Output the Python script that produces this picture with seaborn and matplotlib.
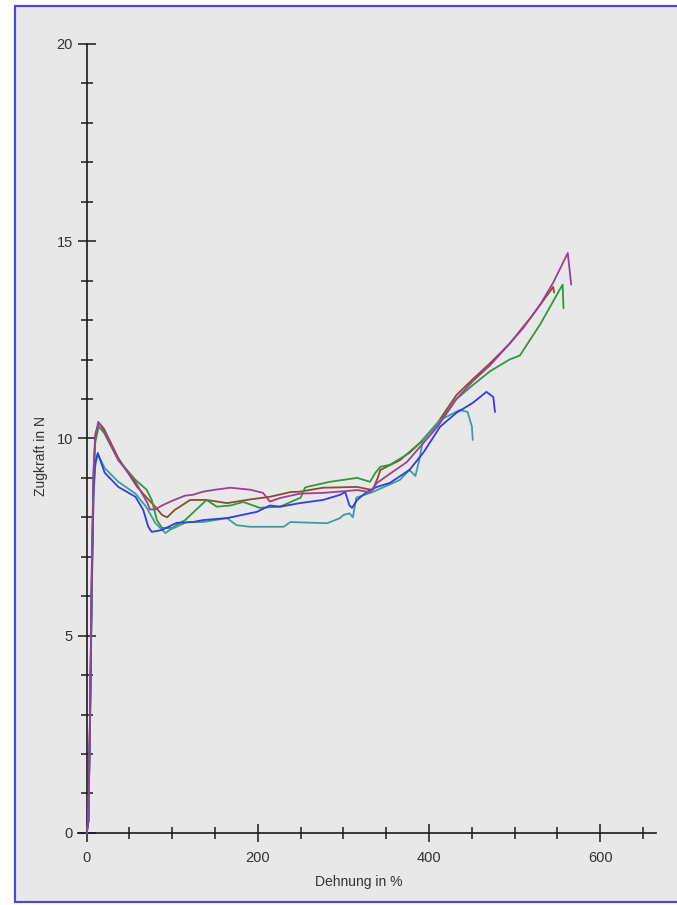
import matplotlib
matplotlib.use('Agg')
import matplotlib.pyplot as plt
from matplotlib.patches import Rectangle
from matplotlib.ticker import FixedLocator
import seaborn as sns

# Zugversuch: Dehnung in % vs. Zugkraft in N, five specimens
purple_x = [0, 2, 4, 6, 8, 10, 13.5, 20, 37, 57, 71, 74, 80, 88, 100, 115, 124, 136, 150, 168,
            191, 206, 214, 226, 249, 276, 300, 316, 331, 339, 354, 374, 390, 410, 432, 451,
            471, 494, 510, 530, 545, 562, 566]
purple_y = [0, 0.3, 3.0, 6.5, 9.0, 10.0, 10.42, 10.2, 9.45, 8.9, 8.36, 8.2, 8.2, 8.3, 8.42, 8.55,
            8.57, 8.65, 8.7, 8.75, 8.7, 8.62, 8.4, 8.49, 8.6, 8.62, 8.66, 8.69, 8.64, 8.87, 9.1,
            9.4, 9.8, 10.3, 11.0, 11.45, 11.85, 12.4, 12.8, 13.4, 13.95, 14.7, 13.9]

brown_x = [0, 2, 4, 6, 8, 10, 14, 20, 37, 59, 70, 80, 88, 94, 103, 121, 140, 164, 190, 214,
           238, 249, 276, 316, 334, 340, 343, 366, 390, 410, 432, 451, 471, 494, 520, 545, 546]
brown_y = [0, 0.3, 3.2, 6.8, 9.2, 10.1, 10.4, 10.25, 9.5, 8.77, 8.5, 8.27, 8.06, 8.0, 8.19, 8.44,
           8.44, 8.36, 8.45, 8.52, 8.64, 8.65, 8.75, 8.77, 8.69, 9.0, 9.2, 9.45, 9.9, 10.4, 11.1,
           11.5, 11.9, 12.4, 13.1, 13.84, 13.7]

green_x = [0, 2, 4, 6, 8, 10, 14, 20, 37, 57, 70, 76, 82, 88, 100, 109, 115, 140, 152, 168,
           183, 202, 226, 250, 255, 257, 284, 316, 331, 337, 343, 354, 377, 390, 410, 432, 451,
           471, 494, 506, 530, 556, 557]
green_y = [0, 0.3, 3.0, 6.6, 9.0, 9.9, 10.3, 10.15, 9.45, 8.95, 8.7, 8.44, 7.93, 7.73, 7.73, 7.86,
           7.93, 8.44, 8.27, 8.3, 8.39, 8.24, 8.27, 8.5, 8.75, 8.77, 8.9, 9.0, 8.9, 9.12, 9.28,
           9.33, 9.63, 9.9, 10.35, 11.0, 11.35, 11.7, 12.0, 12.1, 12.9, 13.9, 13.3]

blue_x = [0, 2, 4, 6, 8, 10, 13, 21, 37, 57, 66, 72, 76, 88, 105, 124, 136, 164, 199, 214,
          226, 234, 249, 276, 296, 302, 307, 310, 316, 323, 331, 339, 354, 377, 393, 413, 432,
          451, 467, 475, 477]
blue_y = [0, 0.3, 3.0, 6.3, 8.7, 9.4, 9.63, 9.13, 8.77, 8.52, 8.19, 7.76, 7.63, 7.68, 7.86, 7.88,
          7.93, 7.98, 8.14, 8.3, 8.27, 8.3, 8.36, 8.44, 8.57, 8.64, 8.3, 8.24, 8.44, 8.57, 8.69,
          8.77, 8.87, 9.2, 9.63, 10.3, 10.65, 10.9, 11.18, 11.05, 10.67]

teal_x = [0, 2, 4, 6, 8, 10, 13, 21, 37, 57, 70, 80, 92, 97, 117, 136, 164, 175, 191, 230,
          238, 281, 296, 300, 307, 311, 315, 334, 366, 377, 384, 388, 393, 413, 436, 445, 450,
          451]
teal_y = [0, 0.3, 2.8, 6.0, 8.5, 9.3, 9.6, 9.25, 8.9, 8.6, 8.25, 7.86, 7.6, 7.68, 7.88, 7.88,
          7.98, 7.8, 7.76, 7.76, 7.88, 7.85, 7.98, 8.06, 8.1, 8.0, 8.5, 8.64, 8.95, 9.2, 9.05,
          9.4, 9.96, 10.47, 10.72, 10.67, 10.3, 9.96]

curves = [
    (brown_x, brown_y, '#8e4a2e'),
    (green_x, green_y, '#2e9a3a'),
    (teal_x, teal_y, '#3a9e9c'),
    (blue_x, blue_y, '#2f3ee0'),
    (purple_x, purple_y, '#9c3f96'),
]

x_major = [0, 200, 400, 600]
x_minor = [50, 100, 150, 250, 300, 350, 450, 500, 550, 650]
y_major = [0, 5, 10, 15, 20]
y_minor = [v for v in range(1, 20) if v % 5 != 0]

sns.set_theme(style='white')
plt.rcParams['font.family'] = ['Liberation Sans', 'DejaVu Sans']

fig = plt.figure(figsize=(6.77, 9.05), dpi=100)
fig.patch.set_facecolor('white')
fig.add_artist(Rectangle((15 / 677, 3 / 905), 1.0, 896 / 905, transform=fig.transFigure,
                         facecolor='#e8e8e8', edgecolor='#4a4acb', lw=1.6, zorder=0))

ax = fig.add_axes([17 / 677, 5 / 905, 660 / 677, 892 / 905])
ax.set_facecolor('none')

for cx, cy, col in curves:
    sns.lineplot(x=cx, y=cy, sort=False, estimator=None, color=col, lw=1.3, ax=ax)

ax.set_xlim(-81.4, 689.6)
ax.set_ylim(-1.70, 20.91)

for s in ['top', 'right']:
    ax.spines[s].set_visible(False)
ax.spines['left'].set_position(('data', 0))
ax.spines['left'].set_bounds(0, 20)
ax.spines['bottom'].set_position(('data', 0))
ax.spines['bottom'].set_bounds(-10, 665)
for s in ['left', 'bottom']:
    ax.spines[s].set_linewidth(1.2)
    ax.spines[s].set_color('#1a1a1a')
    ax.spines[s].set_zorder(1)

ax.xaxis.set_major_locator(FixedLocator(x_major))
ax.xaxis.set_minor_locator(FixedLocator(x_minor))
ax.yaxis.set_major_locator(FixedLocator(y_major))
ax.yaxis.set_minor_locator(FixedLocator(y_minor))

ax.tick_params(which='major', direction='inout', length=13, width=1.1, color='#1a1a1a',
               labelsize=10.5, labelcolor='#333333')
ax.tick_params(which='minor', direction='inout', length=8.5, width=1.1, color='#1a1a1a')
ax.tick_params(axis='x', which='major', pad=6.5)
ax.tick_params(axis='y', which='major', pad=3.4)
ax.tick_params(bottom=True, left=True, which='both')

ax.set_xlabel('Dehnung in %', fontsize=10, color='#333333')
ax.set_ylabel('Zugkraft in N', fontsize=10, color='#333333')
ax.xaxis.set_label_coords(0.518, 0.0202)
ax.yaxis.set_label_coords(0.0364, 0.498)
ax.xaxis.label.set_va('center')
ax.yaxis.label.set_va('center')

fig.savefig('out.png', dpi=100, facecolor=fig.get_facecolor())
